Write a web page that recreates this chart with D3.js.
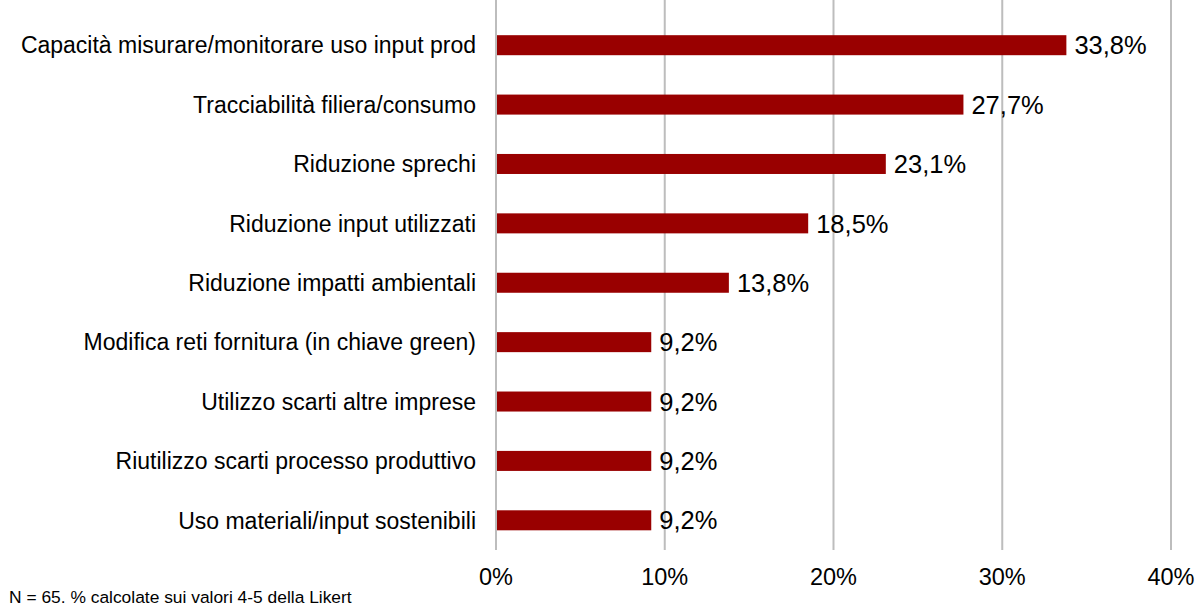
<!DOCTYPE html>
<html><head><meta charset="utf-8">
<script src="https://cdn.jsdelivr.net/npm/d3@7"></script>
<style>body{margin:0;background:#fff;} svg{display:block;font-family:"Liberation Sans",Arial,sans-serif;}</style>
</head><body><svg id="c" width="1196" height="606"></svg>
<script>
const categories = ["Capacità misurare/monitorare uso input prod","Tracciabilità filiera/consumo","Riduzione sprechi","Riduzione input utilizzati","Riduzione impatti ambientali","Modifica reti fornitura (in chiave green)","Utilizzo scarti altre imprese","Riutilizzo scarti processo produttivo","Uso materiali/input sostenibili"];
const values = [33.8,27.7,23.1,18.5,13.8,9.2,9.2,9.2,9.2];
const ticks = [0,10,20,30,40];
const footnote = "N = 65. % calcolate sui valori 4-5 della Likert";

const svg = d3.select("#c");
const x = d3.scaleLinear().domain([0,40]).range([496,1171]);
const y = d3.scaleBand().domain(categories).range([15.5,550]).paddingInner(0.663).paddingOuter(0.3315);

svg.append("g").selectAll("line").data(ticks).join("line")
  .attr("x1",d=>x(d)).attr("x2",d=>x(d)).attr("y1",0).attr("y2",550)
  .attr("stroke","#bdbdbd").attr("stroke-width",2);

svg.append("g").selectAll("rect").data(values).join("rect")
  .attr("x",x(0)+1).attr("y",(d,i)=>y(categories[i]))
  .attr("width",d=>x(d)-x(0)-1).attr("height",y.bandwidth())
  .attr("fill","#990000");

svg.append("g").selectAll("text").data(values).join("text")
  .attr("x",d=>x(d)+8).attr("y",(d,i)=>y(categories[i])+y.bandwidth()/2)
  .attr("dy","0.36em").attr("font-size",25.5).attr("fill","#000")
  .text(d=>d.toFixed(1).replace(".",",")+"%");

svg.append("g").selectAll("text").data(categories).join("text")
  .attr("x",476).attr("y",d=>y(d)+y.bandwidth()/2).attr("dy","0.36em")
  .attr("text-anchor","end").attr("font-size",23).attr("fill","#000").text(d=>d);

svg.append("g").selectAll("text").data(ticks).join("text")
  .attr("x",d=>x(d)).attr("y",577).attr("dy","0.36em").attr("text-anchor","middle")
  .attr("font-size",23.5).attr("fill","#000").text(d=>d+"%");

svg.append("text").attr("x",9).attr("y",603).attr("font-size",17.4).attr("fill","#000").text(footnote);
</script></body></html>
